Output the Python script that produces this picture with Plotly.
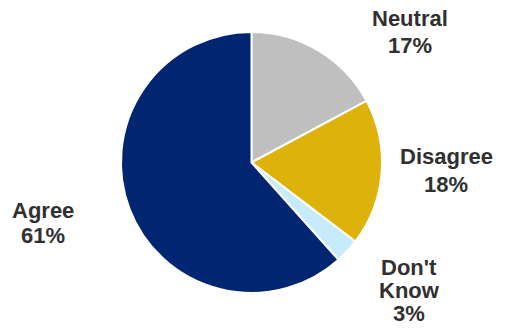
import plotly.graph_objects as go

labels = ["Neutral", "Disagree", "Don't Know", "Agree"]
values = [17, 18, 3, 61]
colors = ["#BFBFBF", "#DDB20A", "#C6ECFB", "#002672"]

W, H = 505, 331

# label line layout (pixels from top-left): x center, y centers per line
label_lines = [
    (410, [19, 46]),
    (446, [157, 184]),
    (409, [267, 290, 313]),
    (43, [210, 236]),
]

fig = go.Figure()
fig.add_trace(go.Pie(
    labels=labels, values=values, sort=False, direction="clockwise", rotation=0,
    marker=dict(colors=colors, line=dict(color="white", width=2)),
    textinfo="none", hoverinfo="label+percent", showlegend=False,
    domain=dict(x=[121 / W, 382 / W], y=[1 - 293 / H, 1 - 32 / H]),
))

for lab, v, (lx, ys) in zip(labels, values, label_lines):
    lines = lab.split(" ") + [f"{v}%"]
    for txt, ly in zip(lines, ys):
        fig.add_annotation(
            x=lx / W, y=1 - ly / H, xref="paper", yref="paper",
            text=f"<b>{txt}</b>", showarrow=False,
            xanchor="center", yanchor="middle", align="center",
            font=dict(family="Arial, Liberation Sans", size=22, color="#303030"),
        )

fig.update_layout(
    width=W, height=H, margin=dict(l=0, r=0, t=0, b=0),
    paper_bgcolor="white", plot_bgcolor="white",
)
fig.write_html("out.html")
